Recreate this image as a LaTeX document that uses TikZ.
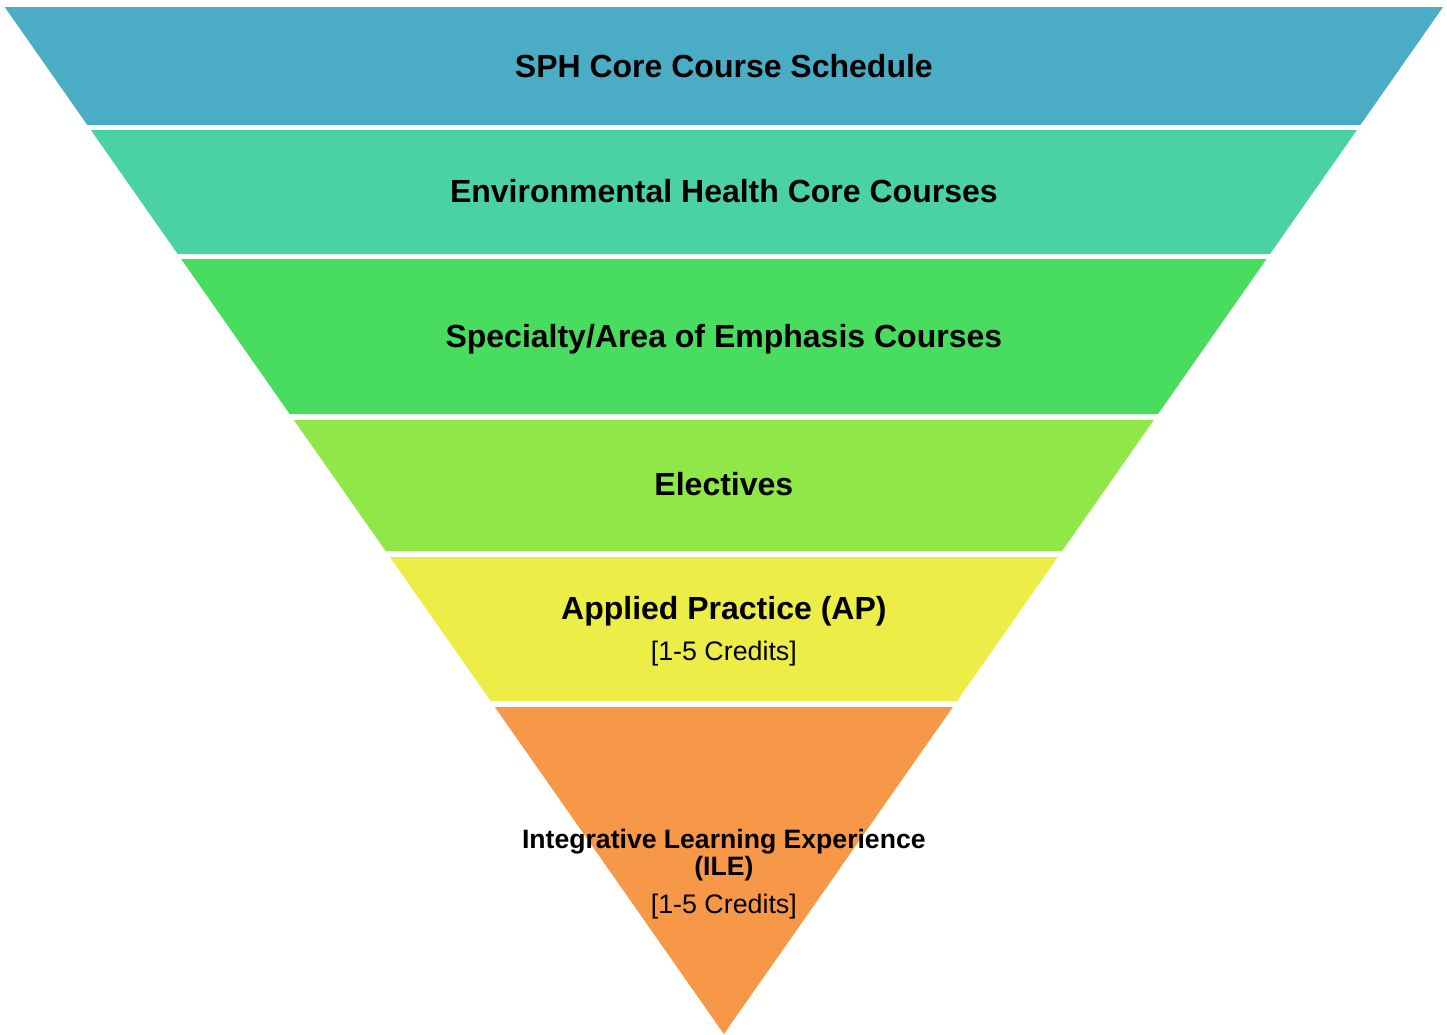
\documentclass[tikz,border=0pt]{standalone}
\usepackage{fontspec}
\setmainfont{Liberation Sans}
\definecolor{cA}{RGB}{75,172,198}
\definecolor{cB}{RGB}{74,209,164}
\definecolor{cC}{RGB}{72,221,94}
\definecolor{cD}{RGB}{143,232,71}
\definecolor{cE}{RGB}{236,238,71}
\definecolor{cF}{RGB}{247,151,72}
\tikzset{
  ttl/.style={anchor=base, inner sep=0pt, font=\fontsize{32}{36}\selectfont\bfseries, text=black},
  ttlsmall/.style={anchor=base, inner sep=0pt, font=\fontsize{26.6}{30}\selectfont\bfseries, text=black},
  cred/.style={anchor=base, inner sep=0pt, font=\fontsize{26.8}{30}\selectfont, text=black}
}
\begin{document}
\begin{tikzpicture}[x=1pt,y=-1pt]
\useasboundingbox (0,0) rectangle (1447,1034);
\foreach \t/\b/\c in {7/125/cA,130/254/cB,259/414/cC,420/551/cD,557/701/cE,707/1034/cF}{
  \pgfmathsetmacro\wt{719.15-(\t-7)*0.70024}
  \pgfmathsetmacro\wb{max(0,719.15-(\b-7)*0.70024)}
  \fill[\c] (723.85-\wt,\t) -- (723.85+\wt,\t) -- (723.85+\wb,\b) -- (723.85-\wb,\b) -- cycle;
}
\node[ttl] (t1) at (723.85,77.5) {SPH Core Course Schedule};
\node[ttl] (t2) at (723.85,202.5) {Environmental Health Core Courses};
\node[ttl] (t3) at (723.85,347) {Specialty/Area of Emphasis Courses};
\node[ttl] (t4) at (723.85,495) {Electives};
\node[ttl] (t5) at (723.85,619.5) {Applied Practice (AP)};
\node[cred] (c5) at (723.85,660.5) {[1-5 Credits]};
\node[ttlsmall] (t6a) at (723.85,848.5) {Integrative Learning Experience};
\node[ttlsmall] (t6b) at (723.85,875.5) {(ILE)};
\node[cred] (c6) at (723.85,913.5) {[1-5 Credits]};
\end{tikzpicture}
\end{document}
